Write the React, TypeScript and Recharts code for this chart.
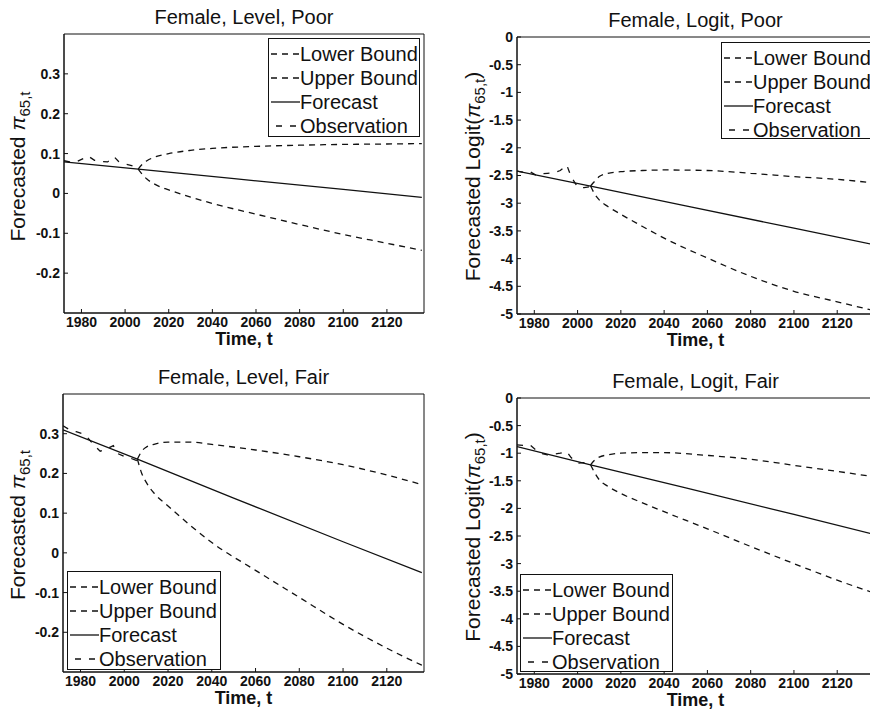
import React from 'react';
import { LineChart, Line, XAxis, YAxis, Legend, ReferenceArea } from 'recharts';

const FONT = '"Liberation Sans", Arial, Helvetica, sans-serif';
const INK = '#111111';

// x axis
const X_DOMAIN = [1972, 2137];
const X_TICKS = [1980, 2000, 2020, 2040, 2060, 2080, 2100, 2120];

// y axes
const LEVEL_DOMAIN = [-0.3, 0.4];
const LEVEL_TICKS = [-0.2, -0.1, 0, 0.1, 0.2, 0.3];
const LOGIT_DOMAIN = [-5, 0];
const LOGIT_TICKS = [-5, -4.5, -4, -3.5, -3, -2.5, -2, -1.5, -1, -0.5, 0];

const SERIES_NAMES = ['Lower Bound', 'Upper Bound', 'Forecast', 'Observation'];

// observed history
const OBS_YEARS = [1972, 1975, 1978, 1981, 1983, 1986, 1989, 1992, 1995, 1997, 2000, 2003, 2006];
const levelPoorObs = [0.082, 0.079, 0.08, 0.088, 0.094, 0.083, 0.08, 0.079, 0.092, 0.08, 0.074, 0.07, 0.064];
const logitPoorObs = [-2.42, -2.44, -2.43, -2.5, -2.47, -2.46, -2.45, -2.41, -2.31, -2.52, -2.71, -2.72, -2.7];
const levelFairObs = [0.32, 0.31, 0.305, 0.3, 0.292, 0.272, 0.256, 0.262, 0.27, 0.25, 0.243, 0.238, 0.232];
const logitFairObs = [-0.85, -0.86, -0.85, -0.95, -1.0, -1.03, -1.02, -1.0, -0.97, -1.08, -1.18, -1.17, -1.2];

// fitted + forecast line
const FC_YEARS = [1972, 2006, 2050, 2100, 2136];
const levelPoorFc = [0.079, 0.061, 0.037, 0.01, -0.01];
const logitPoorFc = [-2.42, -2.69, -3.05, -3.45, -3.74];
const levelFairFc = [0.31, 0.236, 0.138, 0.028, -0.05];
const logitFairFc = [-0.88, -1.21, -1.63, -2.11, -2.46];

// confidence bounds
const BOUND_YEARS = [2006, 2008, 2010, 2014, 2020, 2030, 2040, 2060, 2080, 2100, 2120, 2136];
const levelPoorUpper = [0.061, 0.074, 0.082, 0.092, 0.1, 0.108, 0.113, 0.118, 0.121, 0.123, 0.124, 0.125];
const levelPoorLower = [0.061, 0.047, 0.036, 0.022, 0.009, -0.009, -0.025, -0.052, -0.078, -0.103, -0.125, -0.143];
const logitPoorUpper = [-2.69, -2.6, -2.52, -2.46, -2.43, -2.41, -2.4, -2.41, -2.46, -2.52, -2.57, -2.63];
const logitPoorLower = [-2.69, -2.84, -2.94, -3.06, -3.2, -3.42, -3.63, -3.99, -4.32, -4.59, -4.78, -4.93];
const levelFairUpper = [0.236, 0.256, 0.266, 0.274, 0.279, 0.279, 0.273, 0.259, 0.242, 0.222, 0.196, 0.172];
const levelFairLower = [0.236, 0.2, 0.178, 0.148, 0.118, 0.07, 0.026, -0.044, -0.112, -0.18, -0.24, -0.283];
const logitFairUpper = [-1.21, -1.12, -1.07, -1.03, -1.0, -0.99, -0.99, -1.04, -1.11, -1.22, -1.33, -1.42];
const logitFairLower = [-1.21, -1.36, -1.48, -1.6, -1.73, -1.9, -2.06, -2.37, -2.69, -3.0, -3.3, -3.52];

const zip = (xs: number[], ys: number[]) => xs.map((year, i) => ({ year, v: ys[i] }));

const DASH: Record<string, string | undefined> = {
  'Lower Bound': '6 5',
  'Upper Bound': '6 5',
  Forecast: undefined,
  Observation: '6 8',
};

const CHART_W = 440;
const CHART_H = 355;
const Y_W = 50;
const X_H = 40;

const LegendBox = ({ w, h }: { w: number; h: number }) => (
  <div
    style={{
      width: w,
      height: h,
      boxSizing: 'border-box',
      border: `1px solid ${INK}`,
      background: '#fff',
      padding: '3px 0 0 2px',
      fontFamily: FONT,
      fontSize: 20,
      color: INK,
    }}
  >
    {SERIES_NAMES.map((name) => (
      <div key={name} style={{ display: 'flex', alignItems: 'center', height: 24, whiteSpace: 'nowrap' }}>
        <svg width={29} height={10} style={{ flex: 'none' }}>
          <line
            x1={0}
            y1={5}
            x2={29}
            y2={5}
            stroke={INK}
            strokeWidth={1.3}
            strokeDasharray={DASH[name]}
            strokeDashoffset={name === 'Observation' ? -5 : 0}
          />
        </svg>
        <span style={{ marginLeft: 0 }}>{name}</span>
      </div>
    ))}
  </div>
);

type PanelProps = {
  cx: number;
  cy: number;
  box: [number, number, number, number]; // x0, x1, y0, y1 on the page
  logit: boolean;
  title: string;
  obs: number[];
  fc: number[];
  upper: number[];
  lower: number[];
  legend: { left: number; top: number; w: number; h: number };
  yLabelX: number;
  yLabelDy: number;
};

const Panel = ({ cx, cy, box, logit, title, obs, fc, upper, lower, legend, yLabelX, yLabelDy }: PanelProps) => {
  const [x0, x1, y0, y1] = box;
  const left = x0 - cx;
  const right = x1 - cx;
  const top = y0 - cy;
  const bottom = y1 - cy;
  const midX = (left + right) / 2;
  const midY = (top + bottom) / 2 + yLabelDy;
  const margin = { left: left - Y_W, top, right: CHART_W - right, bottom: CHART_H - bottom - X_H };

  const yLabel = () => (
    <text
      x={yLabelX}
      y={midY}
      transform={`rotate(-90, ${yLabelX}, ${midY})`}
      textAnchor="middle"
      fontFamily={FONT}
      fontSize={21}
      fill={INK}
    >
      {logit ? 'Forecasted Logit(' : 'Forecasted '}
      <tspan fontStyle="italic">π</tspan>
      <tspan dy={5} fontSize={15}>65,t</tspan>
      {logit ? <tspan dy={-5}>)</tspan> : null}
    </text>
  );

  // x label plus the panel title
  const xLabel = () => (
    <g>
      <text x={midX} y={top - 10} textAnchor="middle" fontFamily={FONT} fontSize={20} fill={INK}>
        {title}
      </text>
      <text x={midX} y={bottom + 32} textAnchor="middle" fontFamily={FONT} fontSize={18} fontWeight="bold" fill={INK}>
        Time, t
      </text>
    </g>
  );

  const yDomain = logit ? LOGIT_DOMAIN : LEVEL_DOMAIN;
  const yTicks = logit ? LOGIT_TICKS : LEVEL_TICKS;
  const tickStyle = { fill: INK, fontSize: 14, fontWeight: 'bold', fontFamily: FONT };

  return (
    <div style={{ position: 'absolute', left: cx, top: cy }}>
      <LineChart width={CHART_W} height={CHART_H} margin={margin}>
        <XAxis
          dataKey="year"
          type="number"
          domain={X_DOMAIN}
          ticks={X_TICKS}
          allowDataOverflow
          height={X_H}
          stroke={INK}
          tickSize={-4}
          tickMargin={8}
          tick={tickStyle}
          label={xLabel}
        />
        <YAxis
          type="number"
          domain={yDomain}
          ticks={yTicks}
          allowDataOverflow
          width={Y_W}
          stroke={INK}
          tickSize={-4}
          tickMargin={8}
          tick={tickStyle}
          tickFormatter={(v: number) => String(v)}
          label={yLabel}
        />
        <ReferenceArea
          x1={X_DOMAIN[0]}
          x2={X_DOMAIN[1]}
          y1={yDomain[0]}
          y2={yDomain[1]}
          fill="none"
          fillOpacity={0}
          stroke={INK}
          strokeWidth={1}
          ifOverflow="visible"
        />
        <Legend
          layout="vertical"
          align="center"
          verticalAlign="middle"
          wrapperStyle={{ left: legend.left, top: legend.top, width: legend.w, height: legend.h }}
          content={() => <LegendBox w={legend.w} h={legend.h} />}
        />
        <Line
          data={zip(BOUND_YEARS, lower)}
          dataKey="v"
          name="Lower Bound"
          type="monotone"
          stroke={INK}
          strokeWidth={1.3}
          strokeDasharray={DASH['Lower Bound']}
          dot={false}
          isAnimationActive={false}
        />
        <Line
          data={zip(BOUND_YEARS, upper)}
          dataKey="v"
          name="Upper Bound"
          type="monotone"
          stroke={INK}
          strokeWidth={1.3}
          strokeDasharray={DASH['Upper Bound']}
          dot={false}
          isAnimationActive={false}
        />
        <Line
          data={zip(FC_YEARS, fc)}
          dataKey="v"
          name="Forecast"
          type="linear"
          stroke={INK}
          strokeWidth={1.3}
          dot={false}
          isAnimationActive={false}
        />
        <Line
          data={zip(OBS_YEARS, obs)}
          dataKey="v"
          name="Observation"
          type="linear"
          stroke={INK}
          strokeWidth={1.3}
          strokeDasharray={DASH.Observation}
          dot={false}
          isAnimationActive={false}
        />
      </LineChart>
    </div>
  );
};

export default function App() {
  return (
    <div
      style={{
        position: 'fixed',
        left: 0,
        top: 0,
        width: 870,
        height: 717,
        overflow: 'hidden',
        background: '#fff',
      }}
    >
      <Panel
        cx={0}
        cy={0}
        box={[64, 424, 34, 313]}
        logit={false}
        title="Female, Level, Poor"
        obs={levelPoorObs}
        fc={levelPoorFc}
        upper={levelPoorUpper}
        lower={levelPoorLower}
        legend={{ left: 268, top: 38, w: 152, h: 99 }}
        yLabelX={25}
        yLabelDy={-7}
      />
      <Panel
        cx={435}
        cy={0}
        box={[517, 874, 37, 314]}
        logit
        title="Female, Logit, Poor"
        obs={logitPoorObs}
        fc={logitPoorFc}
        upper={logitPoorUpper}
        lower={logitPoorLower}
        legend={{ left: 286, top: 42, w: 152, h: 97 }}
        yLabelX={45}
        yLabelDy={1}
      />
      <Panel
        cx={0}
        cy={360}
        box={[63, 424, 394, 672]}
        logit={false}
        title="Female, Level, Fair"
        obs={levelFairObs}
        fc={levelFairFc}
        upper={levelFairUpper}
        lower={levelFairLower}
        legend={{ left: 67, top: 211, w: 154, h: 99 }}
        yLabelX={25}
        yLabelDy={-8}
      />
      <Panel
        cx={435}
        cy={360}
        box={[517, 874, 398, 674]}
        logit
        title="Female, Logit, Fair"
        obs={logitFairObs}
        fc={logitFairFc}
        upper={logitFairUpper}
        lower={logitFairLower}
        legend={{ left: 85, top: 214, w: 153, h: 98 }}
        yLabelX={45}
        yLabelDy={1}
      />
    </div>
  );
}
